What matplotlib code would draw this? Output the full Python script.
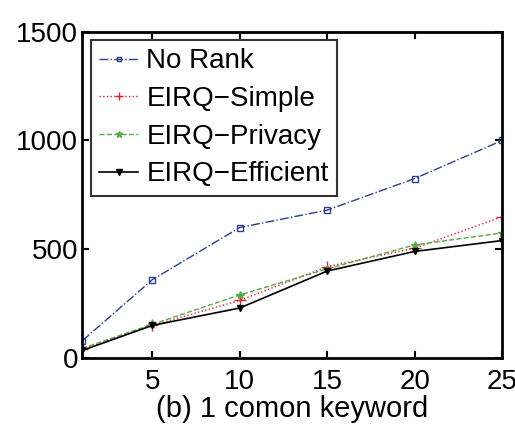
import matplotlib
matplotlib.use("Agg")
import matplotlib.pyplot as plt

plt.rcParams['font.family'] = ['Liberation Sans', 'DejaVu Sans']

x = [1, 5, 10, 15, 20, 25]
no_rank = [80, 360, 600, 680, 825, 1000]
eirq_simple = [40, 150, 265, 420, 505, 650]
eirq_privacy = [45, 155, 290, 410, 520, 575]
eirq_efficient = [35, 150, 230, 400, 490, 540]

fig = plt.figure(figsize=(5.15, 4.34), dpi=100)
ax = fig.add_axes([0.16, 0.175, 0.815, 0.752])

ax.plot(x, no_rank, color='#2b3f8c', linestyle='-.', linewidth=1, marker='s',
        markersize=4, markerfacecolor='none', label='No Rank')
ax.plot(x, eirq_simple, color='#e0203a', linestyle=':', linewidth=1, marker='+',
        markersize=8, label='EIRQ\u2212Simple')
ax.plot(x, eirq_privacy, color='#5aa84a', linestyle='--', linewidth=1, marker='*',
        markersize=6, label='EIRQ\u2212Privacy')
ax.plot(x, eirq_efficient, color='black', linestyle='-', linewidth=1.2, marker='v',
        markersize=5, label='EIRQ\u2212Efficient')

ax.set_xlim(1, 25)
ax.set_ylim(0, 1500)
ax.set_xticks([5, 10, 15, 20, 25])
ax.set_yticks([0, 500, 1000, 1500])
ax.tick_params(direction='in', top=True, right=True, labelsize=20, length=5, width=1.5)
ax.tick_params(axis='x', pad=8)
ax.tick_params(axis='y', pad=3)
for s in ax.spines.values():
    s.set_linewidth(2)
ax.set_xlabel('(b) 1 comon keyword', fontsize=21, labelpad=0)

leg = ax.legend(loc='upper left', fontsize=20, fancybox=False, edgecolor='black',
                handlelength=1.4, handletextpad=0.3, borderpad=0.3, labelspacing=0.42,
                borderaxespad=0.3, markerscale=0.8)
leg.get_frame().set_linewidth(1.5)

fig.savefig('out.png', dpi=100)
